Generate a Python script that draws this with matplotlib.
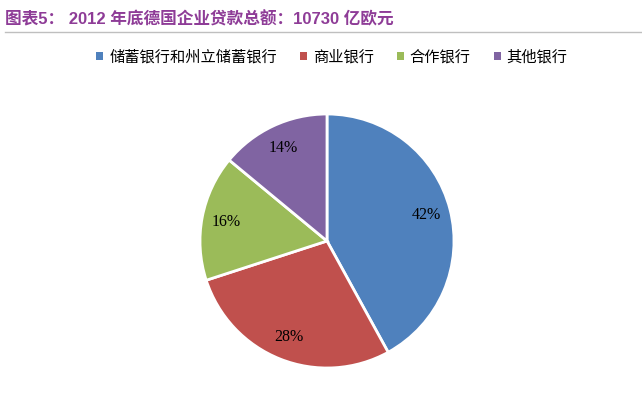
import matplotlib
matplotlib.use('Agg')
import matplotlib.pyplot as plt
from matplotlib.patches import Patch
from matplotlib.lines import Line2D

# 2012年底德国企业贷款结构
categories = ['储蓄银行和州立储蓄银行', '商业银行', '合作银行', '其他银行']
shares = [42, 28, 16, 14]
colors = ['#4F81BD', '#C0504D', '#9BBB59', '#8064A2']

plt.rcParams['font.family'] = ['Liberation Sans', 'Noto Sans CJK SC', 'DejaVu Sans']

W, H = 642, 403
fig = plt.figure(figsize=(W / 100, H / 100), dpi=100)

# 标题与下划线
fig.text(5 / W, 1 - 19 / H, '图表5： 2012 年底德国企业贷款总额：10730 亿欧元',
         color='#8E3C97', fontsize=12, fontweight='bold', va='center', ha='left')
fig.add_artist(Line2D([5 / W, 1], [1 - 32 / H, 1 - 32 / H], color='#BFBFBF', lw=1))

# 饼图
cx, cy, r = 327, 241, 127
ax = fig.add_axes([(cx - r) / W, (H - cy - r) / H, 2 * r / W, 2 * r / H])
wedges, texts, autotexts = ax.pie(shares, colors=colors, startangle=90, counterclock=False,
                                  autopct='%1.0f%%', pctdistance=0.81,
                                  wedgeprops=dict(edgecolor='white', linewidth=2),
                                  textprops=dict(family='Liberation Serif', fontsize=11.5))
ax.set_xlim(-1, 1)
ax.set_ylim(-1, 1)
ax.set_aspect('equal')

# 图例
handles = [Patch(facecolor=c, edgecolor='none') for c in colors]
fig.legend(handles, categories, loc='center', bbox_to_anchor=(332 / W, 1 - 57 / H), ncol=4,
           frameon=False, fontsize=11, handlelength=0.45, handleheight=0.45,
           handletextpad=0.4, columnspacing=1.5)

fig.savefig('out.png', dpi=100)
